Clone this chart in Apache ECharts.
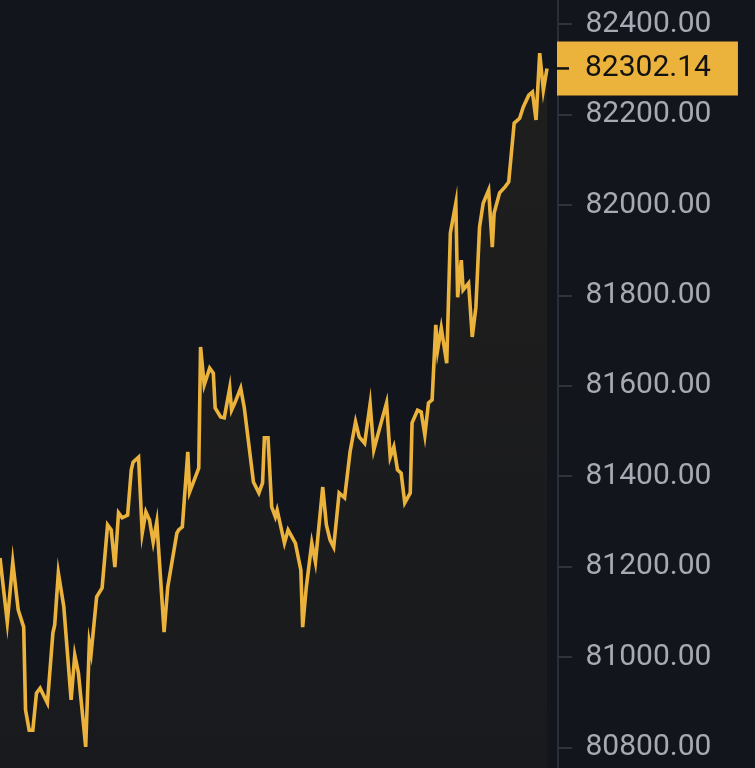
<!DOCTYPE html>
<html>
<head>
<meta charset="utf-8">
<script src="https://cdn.jsdelivr.net/npm/echarts@6/dist/echarts.min.js"></script>
<style>
html,body{margin:0;padding:0;background:#12151c;}
#chart{width:755px;height:768px;}
</style>
</head>
<body>
<div id="chart"></div>
<script>
// time index of each traced price point (300 ticks across the visible window)
var ticks = [0,4,7,8,10,13,14,16,18,20,22,26,29,30,32,35,39,41,43,47,49,50,53,56,59,61,63,65,67,70,72,73,76,78,80,82,84,86,90,92,97,98,100,103,104,109,110,112,115,117,118,121,123,126,127,129,132,134,139,142,144,145,147,149,151,152,156,158,162,165,166,168,171,173,177,178,179,181,183,186,189,192,195,197,200,203,205,209,212,214,216,218,220,222,225,226,229,231,233,235,237,239,240,242,245,247,250,251,253,254,257,259,261,263,265,268,270,271,274,277,279,282,285,287,290,292,294,296,298,300];
var prices = [81219,81077,81210,81210,81104,81066,80883,80838,80838,80920,80931,80898,81053,81071,81186,81111,80905,81004,80965,80801,81031,81009,81133,81153,81292,81281,81199,81319,81308,81314,81414,81431,81442,81274,81321,81303,81254,81299,81055,81155,81274,81281,81288,81454,81365,81418,81686,81602,81639,81628,81551,81531,81529,81595,81546,81564,81595,81551,81387,81363,81385,81485,81485,81332,81310,81325,81252,81281,81252,81192,81066,81155,81252,81210,81376,81374,81292,81259,81243,81363,81352,81454,81520,81487,81473,81560,81458,81518,81562,81442,81465,81414,81407,81341,81363,81518,81546,81542,81491,81562,81569,81735,81679,81728,81650,81938,82004,81796,81878,81812,81827,81708,81774,81951,82004,82033,81907,81982,82027,82040,82051,82181,82192,82217,82243,82250,82188,82336,82254,82302.14];
var yTicks = {min: 80600, max: 82600, step: 200};
var lastPrice = prices[prices.length - 1];

var seriesData = ticks.map(function (t, i) { return [t, prices[i]]; });

var chart = echarts.init(document.getElementById('chart'), null, {renderer: 'canvas'});
chart.setOption({
  backgroundColor: '#12151c',
  animation: false,
  grid: {left: 0, right: 208, top: -66.2, bottom: -69.8, containLabel: false, outerBoundsMode: 'none'},
  xAxis: {type: 'value', min: 0, max: 300, show: false},
  yAxis: {
    type: 'value', position: 'right', offset: 11,
    min: yTicks.min, max: yTicks.max, interval: yTicks.step,
    axisLine: {show: true, onZero: false, lineStyle: {color: '#2a2e38', width: 2}},
    axisTick: {show: true, length: 14, lineStyle: {color: '#2f333d', width: 2}},
    splitLine: {show: false},
    axisLabel: {
      margin: 27.5, color: '#a6aab2', fontSize: 30, fontFamily: 'Roboto',
      padding: [5, 0, 0, 0],
      formatter: function (v) { return v.toFixed(2); }
    }
  },
  series: [{
    type: 'line',
    data: seriesData,
    showSymbol: false,
    symbol: 'none',
    lineStyle: {color: '#ebb33c', width: 3.6, join: 'miter'},
    areaStyle: {
      color: new echarts.graphic.LinearGradient(0, 0, 0, 1, [
        {offset: 0, color: 'rgba(235,180,60,0.085)'},
        {offset: 1, color: 'rgba(235,180,60,0.04)'}
      ])
    },
    markLine: {
      silent: true,
      symbol: 'none',
      lineStyle: {color: 'rgba(0,0,0,0)', width: 0},
      data: [{yAxis: lastPrice}],
      label: {
        show: true,
        position: 'end',
        distance: 10,
        opacity: 1,
        backgroundColor: '#ebb33c',
        padding: [0, 27, 0, 0],
        formatter: function () { return '{d|}{v|' + lastPrice.toFixed(2) + '}'; },
        rich: {
          d: {width: 12, height: 2.5, backgroundColor: '#101010'},
          v: {fontSize: 30, fontFamily: 'Roboto', color: '#121212', padding: [0, 0, 0, 16], lineHeight: 54, height: 54}
        }
      }
    }
  }]
});
</script>
</body>
</html>
